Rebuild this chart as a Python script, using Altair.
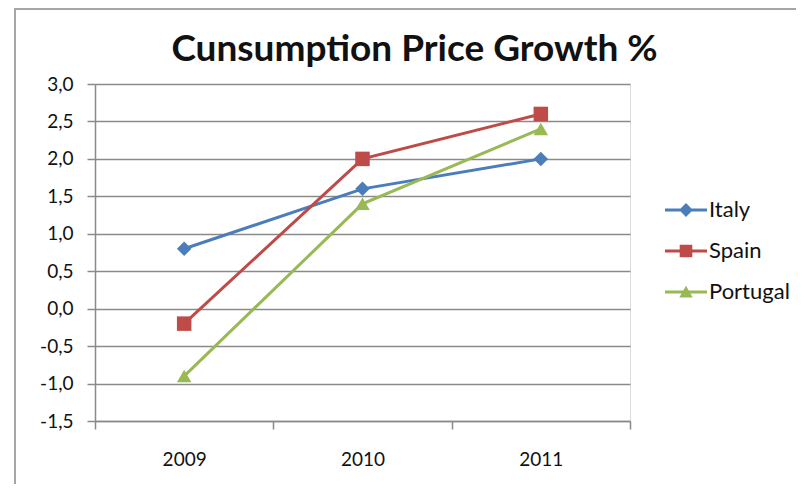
import altair as alt
import pandas as pd

# ---- data ----
years = ["2009", "2010", "2011"]
countries = ["Italy", "Spain", "Portugal"]
italy = [0.8, 1.6, 2.0]
spain = [-0.2, 2.0, 2.6]
portugal = [-0.9, 1.4, 2.4]
y_ticks = [-1.5, -1.0, -0.5, 0.0, 0.5, 1.0, 1.5, 2.0, 2.5, 3.0]
title_text = "Cunsumption Price Growth %"

# ---- styles ----
colors = ["#4A7EBB", "#BE4B48", "#98B954"]
shapes = ["diamond", "square", "triangle-up"]
bar = "M-1,-0.075 L1,-0.075 L1,0.075 L-1,0.075 Z "
legend_paths = [
    bar + "M0,-0.33 L0.33,0 L0,0.33 L-0.33,0 Z",
    bar + "M-0.3,-0.3 L0.3,-0.3 L0.3,0.3 L-0.3,0.3 Z",
    bar + "M0,-0.3 L0.32,0.26 L-0.32,0.26 Z",
]
FONT = "Lato"
GRID = "#8a8a8a"

rows = []
for c, vals in zip(countries, [italy, spain, portugal]):
    for yr, v in zip(years, vals):
        rows.append({"year": yr, "country": c, "value": v})
df = pd.DataFrame(rows)


def pick(values, key="datum.value"):
    expr = f"'{values[-1]}'"
    for i in range(len(countries) - 2, -1, -1):
        expr = f"({key} === '{countries[i]}' ? '{values[i]}' : {expr})"
    return {"expr": expr}


legend = alt.Legend(
    title=None,
    orient="none",
    legendX=570,
    legendY=105,
    padding=0,
    rowPadding=9,
    symbolSize=1764,
    symbolType=pick(legend_paths),
    symbolFillColor=pick(colors),
    symbolStrokeWidth=0,
    symbolOpacity=1,
    labelOffset=2,
    labelFont=FONT,
    labelFontSize=22,
    labelColor="#111111",
)

x = alt.X(
    "year:N",
    sort=years,
    scale=alt.Scale(type="band", paddingInner=0, paddingOuter=0),
    axis=alt.Axis(
        title=None,
        tickBand="extent",
        grid=False,
        labelAngle=0,
        tickSize=8,
        labelPadding=21,
        labelFont=FONT,
        labelFontSize=19,
        labelColor="#111111",
        domainColor=GRID,
        domainWidth=1.5,
        tickColor=GRID,
        tickWidth=1.5,
    ),
)
y = alt.Y(
    "value:Q",
    scale=alt.Scale(domain=[-1.5, 3.0], nice=False, zero=False),
    axis=alt.Axis(
        title=None,
        values=y_ticks,
        labelExpr="(datum.value < 0 ? '-' : '') + replace(format(abs(datum.value), '.1f'), '.', ',')",
        grid=True,
        gridColor=GRID,
        gridWidth=1.5,
        tickSize=8,
        labelPadding=14,
        labelFont=FONT,
        labelFontSize=19,
        labelColor="#111111",
        domainColor=GRID,
        domainWidth=1.5,
        tickColor=GRID,
        tickWidth=1.5,
    ),
)
color = alt.Color("country:N", scale=alt.Scale(domain=countries, range=colors), legend=legend)

base = alt.Chart(df)
lines = base.mark_line(strokeWidth=3).encode(x=x, y=y, color=color, detail="country:N")
points = base.mark_point(
    filled=True, opacity=1, size=210, shape=pick(shapes, key="datum.country")
).encode(x=x, y=y, color=color)

frame_data = alt.Data(values=[{}])
left_border = alt.Chart(frame_data).mark_rule(color="#a6a6a6", strokeWidth=2).encode(
    x=alt.value(-80), y=alt.value(-76), y2=alt.value(420)
)
top_border = alt.Chart(frame_data).mark_rule(color="#a6a6a6", strokeWidth=2).encode(
    x=alt.value(-80), x2=alt.value(720), y=alt.value(-75)
)

chart = (
    alt.layer(left_border, top_border, lines, points)
    .properties(
        width=535,
        height=337,
        autosize=alt.AutoSizeParams(type="none"),
        padding={"left": 87, "top": 76, "right": 166, "bottom": 63},
        title=alt.TitleParams(
            title_text,
            font=FONT,
            fontSize=37,
            fontWeight="bold",
            color="#111111",
            anchor="middle",
            frame="group",
            dx=52,
            offset=-91,
            baseline="alphabetic",
        ),
    )
    .configure_view(strokeWidth=0)
    .configure(background="white")
)

chart.save("out.html", embed_options={"renderer": "svg", "actions": False})
